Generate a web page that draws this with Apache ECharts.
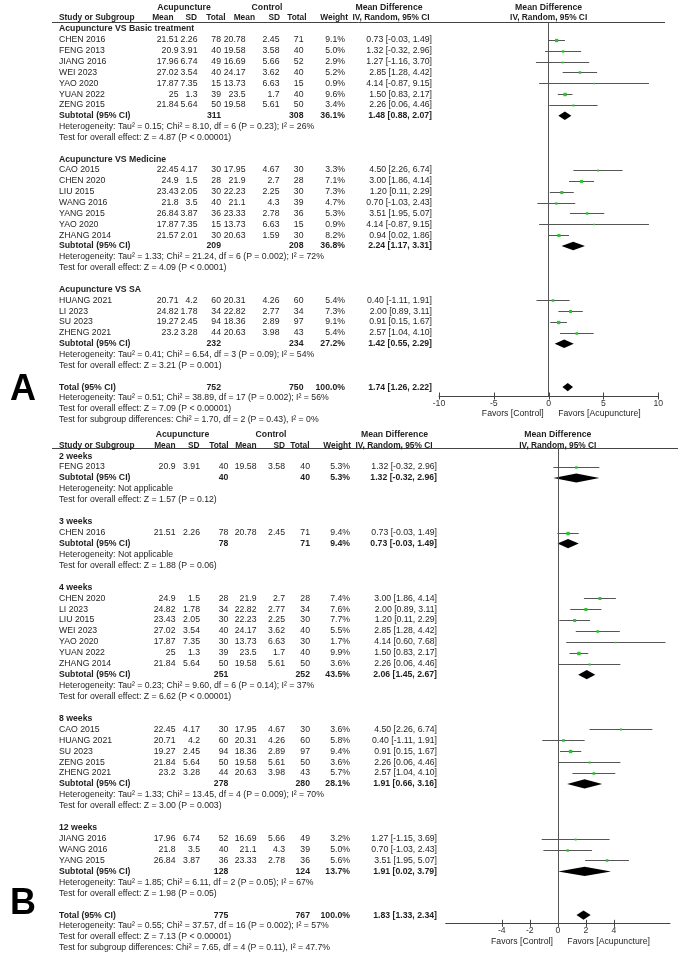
<!DOCTYPE html>
<html><head><meta charset="utf-8">
<script src="https://cdn.jsdelivr.net/npm/echarts@6/dist/echarts.min.js"></script>
<style>html,body{margin:0;padding:0;background:#fff}#c{width:680px;height:953px}</style>
</head><body><div id="c"></div>
<script>
// ================= Panel A data =================
const groupNamesA = ['Acupuncture VS Basic treatment', 'Acupuncture VS Medicine', 'Acupuncture VS SA'];
const groupSizesA = [7, 7, 4];
const studyA = ['CHEN 2016','FENG 2013','JIANG 2016','WEI 2023','YAO 2020','YUAN 2022','ZENG 2015',
  'CAO 2015','CHEN 2020','LIU 2015','WANG 2016','YANG 2015','YAO 2020','ZHANG 2014',
  'HUANG 2021','LI 2023','SU 2023','ZHENG 2021'];
const acuMeanA = [21.51,20.9,17.96,27.02,17.87,25,21.84, 22.45,24.9,23.43,21.8,26.84,17.87,21.57, 20.71,24.82,19.27,23.2];
const acuSDA   = [2.26,3.91,6.74,3.54,7.35,1.3,5.64, 4.17,1.5,2.05,3.5,3.87,7.35,2.01, 4.2,1.78,2.45,3.28];
const acuNA    = [78,40,49,40,15,39,50, 30,28,30,40,36,15,30, 60,34,94,44];
const ctlMeanA = [20.78,19.58,16.69,24.17,13.73,23.5,19.58, 17.95,21.9,22.23,21.1,23.33,13.73,20.63, 20.31,22.82,18.36,20.63];
const ctlSDA   = [2.45,3.58,5.66,3.62,6.63,1.7,5.61, 4.67,2.7,2.25,4.3,2.78,6.63,1.59, 4.26,2.77,2.89,3.98];
const ctlNA    = [71,40,52,40,15,40,50, 30,28,30,39,36,15,30, 60,34,97,43];
const weightA  = [9.1,5.0,2.9,5.2,0.9,9.6,3.4, 3.3,7.1,7.3,4.7,5.3,0.9,8.2, 5.4,7.3,9.1,5.4];
const mdA      = [0.73,1.32,1.27,2.85,4.14,1.50,2.26, 4.50,3.00,1.20,0.70,3.51,4.14,0.94, 0.40,2.00,0.91,2.57];
const lowA     = [-0.03,-0.32,-1.16,1.28,-0.87,0.83,0.06, 2.26,1.86,0.11,-1.03,1.95,-0.87,0.02, -1.11,0.89,0.15,1.04];
const highA    = [1.49,2.96,3.70,4.42,9.15,2.17,4.46, 6.74,4.14,2.29,2.43,5.07,9.15,1.86, 1.91,3.11,1.67,4.10];
const subAcuNA = [311, 209, 232];
const subCtlNA = [308, 208, 234];
const subWeightA = [36.1, 36.8, 27.2];
const subMdA   = [1.48, 2.24, 1.42];
const subLowA  = [0.88, 1.17, 0.55];
const subHighA = [2.07, 3.31, 2.29];
const hetA = ['Heterogeneity: Tau² = 0.15; Chi² = 8.10, df = 6 (P = 0.23); I² = 26%',
  'Heterogeneity: Tau² = 1.33; Chi² = 21.24, df = 6 (P = 0.002); I² = 72%',
  'Heterogeneity: Tau² = 0.41; Chi² = 6.54, df = 3 (P = 0.09); I² = 54%'];
const testA = ['Test for overall effect: Z = 4.87 (P < 0.00001)',
  'Test for overall effect: Z = 4.09 (P < 0.0001)',
  'Test for overall effect: Z = 3.21 (P = 0.001)'];
const totalNA = [752, 750];
const totalWeightA = 100.0;
const totalEffA = [1.74, 1.26, 2.22];
const totalTextA = ['Heterogeneity: Tau² = 0.51; Chi² = 38.89, df = 17 (P = 0.002); I² = 56%',
  'Test for overall effect: Z = 7.09 (P < 0.00001)',
  'Test for subgroup differences: Chi² = 1.70, df = 2 (P = 0.43), I² = 0%'];
const ticksA = [-10, -5, 0, 5, 10];

// ================= Panel B data =================
const groupNamesB = ['2 weeks', '3 weeks', '4 weeks', '8 weeks', '12 weeks'];
const groupSizesB = [1, 1, 7, 5, 3];
const studyB = ['FENG 2013', 'CHEN 2016',
  'CHEN 2020','LI 2023','LIU 2015','WEI 2023','YAO 2020','YUAN 2022','ZHANG 2014',
  'CAO 2015','HUANG 2021','SU 2023','ZENG 2015','ZHENG 2021',
  'JIANG 2016','WANG 2016','YANG 2015'];
const acuMeanB = [20.9, 21.51, 24.9,24.82,23.43,27.02,17.87,25,21.84, 22.45,20.71,19.27,21.84,23.2, 17.96,21.8,26.84];
const acuSDB   = [3.91, 2.26, 1.5,1.78,2.05,3.54,7.35,1.3,5.64, 4.17,4.2,2.45,5.64,3.28, 6.74,3.5,3.87];
const acuNB    = [40, 78, 28,34,30,40,30,39,50, 30,60,94,50,44, 52,40,36];
const ctlMeanB = [19.58, 20.78, 21.9,22.82,22.23,24.17,13.73,23.5,19.58, 17.95,20.31,18.36,19.58,20.63, 16.69,21.1,23.33];
const ctlSDB   = [3.58, 2.45, 2.7,2.77,2.25,3.62,6.63,1.7,5.61, 4.67,4.26,2.89,5.61,3.98, 5.66,4.3,2.78];
const ctlNB    = [40, 71, 28,34,30,40,30,40,50, 30,60,97,50,43, 49,39,36];
const weightB  = [5.3, 9.4, 7.4,7.6,7.7,5.5,1.7,9.9,3.6, 3.6,5.8,9.4,3.6,5.7, 3.2,5.0,5.6];
const mdB      = [1.32, 0.73, 3.00,2.00,1.20,2.85,4.14,1.50,2.26, 4.50,0.40,0.91,2.26,2.57, 1.27,0.70,3.51];
const lowB     = [-0.32, -0.03, 1.86,0.89,0.11,1.28,0.60,0.83,0.06, 2.26,-1.11,0.15,0.06,1.04, -1.15,-1.03,1.95];
const highB    = [2.96, 1.49, 4.14,3.11,2.29,4.42,7.68,2.17,4.46, 6.74,1.91,1.67,4.46,4.10, 3.69,2.43,5.07];
const subAcuNB = [40, 78, 251, 278, 128];
const subCtlNB = [40, 71, 252, 280, 124];
const subWeightB = [5.3, 9.4, 43.5, 28.1, 13.7];
const subMdB   = [1.32, 0.73, 2.06, 1.91, 1.91];
const subLowB  = [-0.32, -0.03, 1.45, 0.66, 0.02];
const subHighB = [2.96, 1.49, 2.67, 3.16, 3.79];
const hetB = ['Heterogeneity: Not applicable', 'Heterogeneity: Not applicable',
  'Heterogeneity: Tau² = 0.23; Chi² = 9.60, df = 6 (P = 0.14); I² = 37%',
  'Heterogeneity: Tau² = 1.33; Chi² = 13.45, df = 4 (P = 0.009); I² = 70%',
  'Heterogeneity: Tau² = 1.85; Chi² = 6.11, df = 2 (P = 0.05); I² = 67%'];
const testB = ['Test for overall effect: Z = 1.57 (P = 0.12)',
  'Test for overall effect: Z = 1.88 (P = 0.06)',
  'Test for overall effect: Z = 6.62 (P < 0.00001)',
  'Test for overall effect: Z = 3.00 (P = 0.003)',
  'Test for overall effect: Z = 1.98 (P = 0.05)'];
const totalNB = [775, 767];
const totalWeightB = 100.0;
const totalEffB = [1.83, 1.33, 2.34];
const totalTextB = ['Heterogeneity: Tau² = 0.55; Chi² = 37.57, df = 16 (P = 0.002); I² = 57%',
  'Test for overall effect: Z = 7.13 (P < 0.00001)',
  'Test for subgroup differences: Chi² = 7.65, df = 4 (P = 0.11), I² = 47.7%'];
const ticksB = [-4, -2, 0, 2, 4];

// ================= layout / style =================
const FONT = '"Liberation Sans", Arial, Helvetica, sans-serif';
const FS = 8.7;
const FSH = 8.35;
const TXT = '#1e1e1e';
const LINE = '#555';
const SQ = '#2ec42e';
const Y_MIN_A = -0.6, Y_MAX_A = 33.82;
const Y_MIN_B = -0.7, Y_MAX_B = 42.75;

function ci(m, l, h) { return m.toFixed(2) + ' [' + l.toFixed(2) + ', ' + h.toFixed(2) + ']'; }

function buildPanel(d) {
  const rows = [];   // text rows
  const marks = [];  // [md, row, low, high, weight, kind]
  let r = 0, k = 0;
  for (let g = 0; g < d.groups.length; g++) {
    rows.push({ r, kind: 'group', text: d.groups[g] }); r++;
    for (let j = 0; j < d.sizes[g]; j++, k++) {
      rows.push({ r, kind: 'study', cells: [d.study[k], String(d.am[k]), String(d.asd[k]), String(d.an[k]),
        String(d.cm[k]), String(d.csd[k]), String(d.cn[k]), d.w[k].toFixed(1) + '%', ci(d.md[k], d.lo[k], d.hi[k])] });
      marks.push([d.md[k], r, d.lo[k], d.hi[k], d.w[k], 0]); r++;
    }
    rows.push({ r, kind: 'sub', cells: ['Subtotal (95% CI)', String(d.san[g]), String(d.scn[g]), d.sw[g].toFixed(1) + '%', ci(d.smd[g], d.slo[g], d.shi[g])] });
    marks.push([d.smd[g], r, d.slo[g], d.shi[g], d.sw[g], 1]); r++;
    rows.push({ r, kind: 'note', text: d.het[g] }); r++;
    rows.push({ r, kind: 'note', text: d.test[g] }); r++;
    r++;
  }
  rows.push({ r, kind: 'sub', cells: ['Total (95% CI)', String(d.tn[0]), String(d.tn[1]), d.tw.toFixed(1) + '%', ci(d.te[0], d.te[1], d.te[2])] });
  marks.push([d.te[0], r, d.te[1], d.te[2], d.tw, 1]); r++;
  for (const t of d.tt) { rows.push({ r, kind: 'note', text: t }); r++; }
  rows.push({ r: -2, kind: 'head1' });
  rows.push({ r: -1, kind: 'head2' });
  rows.push({ r: d.favRow, kind: 'favors' });
  for (const t of d.ticks) marks.push([t, d.axisRow, 0, 0, 0, 2]);
  return { rows, marks };
}

const panelA = buildPanel({
  groups: groupNamesA, sizes: groupSizesA, study: studyA, am: acuMeanA, asd: acuSDA, an: acuNA,
  cm: ctlMeanA, csd: ctlSDA, cn: ctlNA, w: weightA, md: mdA, lo: lowA, hi: highA,
  san: subAcuNA, scn: subCtlNA, sw: subWeightA, smd: subMdA, slo: subLowA, shi: subHighA,
  het: hetA, test: testA, tn: totalNA, tw: totalWeightA, te: totalEffA, tt: totalTextA,
  favRow: 35.42, ticks: ticksA, axisRow: Y_MAX_A
});
const panelB = buildPanel({
  groups: groupNamesB, sizes: groupSizesB, study: studyB, am: acuMeanB, asd: acuSDB, an: acuNB,
  cm: ctlMeanB, csd: ctlSDB, cn: ctlNB, w: weightB, md: mdB, lo: lowB, hi: highB,
  san: subAcuNB, scn: subCtlNB, sw: subWeightB, smd: subMdB, slo: subLowB, shi: subHighB,
  het: hetB, test: testB, tn: totalNB, tw: totalWeightB, te: totalEffB, tt: totalTextB,
  favRow: 44.45, ticks: ticksB, axisRow: Y_MAX_B
});

// column layout (pixel x): name, acuMean, acuSD, acuN, ctlMean, ctlSD, ctlN, weight, CI
const colsA = [59, 178.5, 197.5, 221, 245.5, 279.5, 303.5, 345, 432];
const colsB = [59, 175.5, 200, 228.3, 256.5, 285, 310, 350, 437];
const headA = { acu: 184, ctl: 267, cols: [173.5, 197, 225.5, 255, 280, 306.5, 348], md: 389, iv: 391 };
const headB = { acu: 182.5, ctl: 271, cols: [175.5, 199.5, 228.5, 256.5, 285, 309.5, 351], md: 394.5, iv: 394 };

function T(x, y, text, opt) {
  opt = opt || {};
  return { type: 'text', x: x, y: y, silent: true, style: {
    text: text, fill: TXT, fontSize: opt.size || FS, fontFamily: FONT, fontWeight: opt.bold ? 'bold' : 'normal',
    align: opt.align || 'left', textAlign: opt.align || 'left', verticalAlign: 'middle', textVerticalAlign: 'middle' } };
}

function textRenderer(panel, cols, head) {
  return function (params, api) {
    const row = panel.rows[api.value(2)];
    const p0 = api.coord([0, api.value(1)]);
    const y = p0[1], zx = p0[0];
    const ch = [];
    if (row.kind === 'group') ch.push(T(cols[0], y, row.text, { bold: true }));
    else if (row.kind === 'note') ch.push(T(cols[0], y, row.text));
    else if (row.kind === 'study') {
      ch.push(T(cols[0], y, row.cells[0]));
      for (let i = 1; i < 9; i++) ch.push(T(cols[i], y, row.cells[i], { align: 'right' }));
    } else if (row.kind === 'sub') {
      ch.push(T(cols[0], y, row.cells[0], { bold: true }));
      ch.push(T(cols[3], y, row.cells[1], { bold: true, align: 'right' }));
      ch.push(T(cols[6], y, row.cells[2], { bold: true, align: 'right' }));
      ch.push(T(cols[7], y, row.cells[3], { bold: true, align: 'right' }));
      ch.push(T(cols[8], y, row.cells[4], { bold: true, align: 'right' }));
    } else if (row.kind === 'head1') {
      ch.push(T(head.acu, y, 'Acupuncture', { bold: true, align: 'center' }));
      ch.push(T(head.ctl, y, 'Control', { bold: true, align: 'center' }));
      ch.push(T(head.md, y, 'Mean Difference', { bold: true, align: 'center' }));
      ch.push(T(zx, y, 'Mean Difference', { bold: true, align: 'center' }));
    } else if (row.kind === 'head2') {
      ch.push(T(cols[0], y, 'Study or Subgroup', { bold: true, size: FSH }));
      const hs = ['Mean', 'SD', 'Total', 'Mean', 'SD', 'Total', 'Weight'];
      for (let i = 0; i < 7; i++) ch.push(T(head.cols[i], y, hs[i], { bold: true, align: 'right', size: FSH }));
      ch.push(T(head.iv, y, 'IV, Random, 95% CI', { bold: true, align: 'center', size: FSH }));
      ch.push(T(zx, y, 'IV, Random, 95% CI', { bold: true, align: 'center', size: FSH }));
    } else if (row.kind === 'favors') {
      ch.push(T(zx - 5, y, 'Favors [Control]', { align: 'right' }));
      ch.push(T(zx + 9.5, y, 'Favors [Acupuncture]', { align: 'left' }));
    }
    return { type: 'group', children: ch };
  };
}

function markRenderer(half) {
  return function (params, api) {
    const md = api.value(0), r = api.value(1), lo = api.value(2), hi = api.value(3), w = api.value(4), kind = api.value(5);
    const c = api.coord([md, r]);
    if (kind === 2) {
      const x = Math.round(c[0]) + 0.5;
      return { type: 'line', shape: { x1: x, y1: c[1] - 3.5, x2: x, y2: c[1] + 3.5 }, style: { stroke: '#444', lineWidth: 1 } };
    }
    const a = api.coord([lo, r]), b = api.coord([hi, r]);
    if (kind === 0) {
      const y = Math.round(c[1]) + 0.5;
      const s = Math.max(1.6, 1.1 * Math.sqrt(w));
      return { type: 'group', children: [
        { type: 'line', shape: { x1: a[0], y1: y, x2: b[0], y2: y }, style: { stroke: LINE, lineWidth: 1 } },
        { type: 'rect', shape: { x: c[0] - s / 2, y: y - s / 2, width: s, height: s }, style: { fill: SQ } }
      ] };
    }
    const y = c[1];
    return { type: 'polygon', shape: { points: [[a[0], y], [c[0], y - half], [b[0], y], [c[0], y + half]] }, style: { fill: '#000' } };
  };
}

const axisLabelStyle = { color: '#333', fontSize: FS, fontFamily: FONT, margin: 3 };

const option = {
  animation: false,
  backgroundColor: '#fff',
  grid: [
    { left: 439, width: 219.3, top: 22.5, height: 373.5 },
    { left: 445.7, width: 224.3, top: 448.5, height: 474.8 }
  ],
  xAxis: [
    { type: 'value', gridIndex: 0, min: -10, max: 10, interval: 5, position: 'bottom',
      axisLine: { onZero: false, lineStyle: { color: '#444' } }, axisTick: { show: false },
      axisLabel: axisLabelStyle, splitLine: { show: false } },
    { type: 'value', gridIndex: 1, min: -8, max: 8, interval: 2, position: 'bottom',
      axisLine: { onZero: false, lineStyle: { color: '#444' } },
      axisTick: { show: false },
      axisLabel: Object.assign({ customValues: ticksB }, axisLabelStyle), splitLine: { show: false } }
  ],
  yAxis: [
    { type: 'value', gridIndex: 0, min: Y_MIN_A, max: Y_MAX_A, inverse: true, show: false },
    { type: 'value', gridIndex: 1, min: Y_MIN_B, max: Y_MAX_B, inverse: true, show: false }
  ],
  graphic: [
    { type: 'line', shape: { x1: 52, y1: 22.5, x2: 665, y2: 22.5 }, style: { stroke: '#444', lineWidth: 1 }, silent: true },
    { type: 'line', shape: { x1: 52, y1: 448.5, x2: 678, y2: 448.5 }, style: { stroke: '#444', lineWidth: 1 }, silent: true },
    { type: 'text', left: 10, top: 372, style: { text: 'A', fontSize: 36, fontWeight: 'bold', fontFamily: FONT, fill: '#000' }, silent: true },
    { type: 'text', left: 10, top: 886, style: { text: 'B', fontSize: 36, fontWeight: 'bold', fontFamily: FONT, fill: '#000' }, silent: true }
  ],
  series: [
    { type: 'custom', name: 'A marks', xAxisIndex: 0, yAxisIndex: 0, clip: false, silent: true,
      renderItem: markRenderer(4.2), data: panelA.marks,
      markLine: { silent: true, symbol: 'none', label: { show: false }, lineStyle: { color: LINE, width: 1, type: 'solid' }, data: [{ xAxis: 0 }] } },
    { type: 'custom', name: 'A text', xAxisIndex: 0, yAxisIndex: 0, clip: false, silent: true,
      renderItem: textRenderer(panelA, colsA, headA), data: panelA.rows.map((t, i) => [0, t.r, i]) },
    { type: 'custom', name: 'B marks', xAxisIndex: 1, yAxisIndex: 1, clip: false, silent: true,
      renderItem: markRenderer(4.6), data: panelB.marks,
      markLine: { silent: true, symbol: 'none', label: { show: false }, lineStyle: { color: LINE, width: 1, type: 'solid' }, data: [{ xAxis: 0 }] } },
    { type: 'custom', name: 'B text', xAxisIndex: 1, yAxisIndex: 1, clip: false, silent: true,
      renderItem: textRenderer(panelB, colsB, headB), data: panelB.rows.map((t, i) => [0, t.r, i]) }
  ]
};

const chart = echarts.init(document.getElementById('c'), null, { renderer: 'canvas' });
chart.setOption(option);
</script>
</body></html>
